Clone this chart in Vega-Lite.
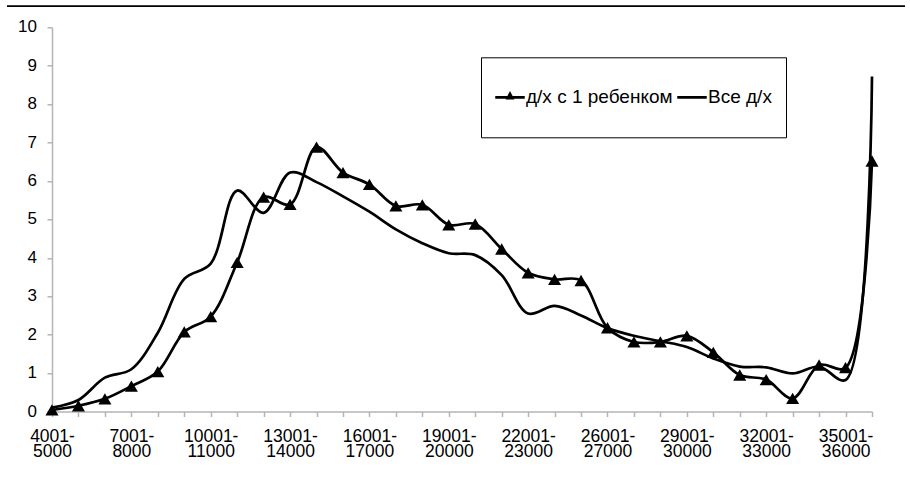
{
  "$schema": "https://vega.github.io/schema/vega-lite/v6.json",
  "autosize": "none",
  "width": 898,
  "height": 384.2,
  "padding": {"left": 7, "top": 27.3, "right": 5, "bottom": 67.5},
  "background": "white",
  "config": {"view": {"stroke": null}, "font": "Liberation Sans", "axisY": {"labelOverlap": false}},
  "datasets": {
    "income": [
      {"cat": "4001-5000", "series": "д/х с 1 ребенком", "value": 0.04},
      {"cat": "5001-6000", "series": "д/х с 1 ребенком", "value": 0.15},
      {"cat": "6001-7000", "series": "д/х с 1 ребенком", "value": 0.33},
      {"cat": "7001-8000", "series": "д/х с 1 ребенком", "value": 0.66},
      {"cat": "8001-9000", "series": "д/х с 1 ребенком", "value": 1.04},
      {"cat": "9001-10000", "series": "д/х с 1 ребенком", "value": 2.07},
      {"cat": "10001-11000", "series": "д/х с 1 ребенком", "value": 2.47},
      {"cat": "11001-12000", "series": "д/х с 1 ребенком", "value": 3.88},
      {"cat": "12001-13000", "series": "д/х с 1 ребенком", "value": 5.58},
      {"cat": "13001-14000", "series": "д/х с 1 ребенком", "value": 5.39},
      {"cat": "14001-15000", "series": "д/х с 1 ребенком", "value": 6.88},
      {"cat": "15001-16000", "series": "д/х с 1 ребенком", "value": 6.22},
      {"cat": "16001-17000", "series": "д/х с 1 ребенком", "value": 5.91},
      {"cat": "17001-18000", "series": "д/х с 1 ребенком", "value": 5.35},
      {"cat": "18001-19000", "series": "д/х с 1 ребенком", "value": 5.38},
      {"cat": "19001-20000", "series": "д/х с 1 ребенком", "value": 4.86},
      {"cat": "20001-21000", "series": "д/х с 1 ребенком", "value": 4.88},
      {"cat": "21001-22000", "series": "д/х с 1 ребенком", "value": 4.23},
      {"cat": "22001-23000", "series": "д/х с 1 ребенком", "value": 3.61},
      {"cat": "23001-24000", "series": "д/х с 1 ребенком", "value": 3.44},
      {"cat": "24001-26000", "series": "д/х с 1 ребенком", "value": 3.41},
      {"cat": "26001-27000", "series": "д/х с 1 ребенком", "value": 2.18},
      {"cat": "27001-28000", "series": "д/х с 1 ребенком", "value": 1.81},
      {"cat": "28001-29000", "series": "д/х с 1 ребенком", "value": 1.81},
      {"cat": "29001-30000", "series": "д/х с 1 ребенком", "value": 1.97},
      {"cat": "30001-31000", "series": "д/х с 1 ребенком", "value": 1.54},
      {"cat": "31001-32000", "series": "д/х с 1 ребенком", "value": 0.95},
      {"cat": "32001-33000", "series": "д/х с 1 ребенком", "value": 0.83},
      {"cat": "33001-34000", "series": "д/х с 1 ребенком", "value": 0.34},
      {"cat": "34001-35000", "series": "д/х с 1 ребенком", "value": 1.21},
      {"cat": "35001-36000", "series": "д/х с 1 ребенком", "value": 1.14},
      {"cat": "более 36000", "series": "д/х с 1 ребенком", "value": 6.52},
      {"cat": "4001-5000", "series": "Все д/х", "value": 0.1},
      {"cat": "5001-6000", "series": "Все д/х", "value": 0.3},
      {"cat": "6001-7000", "series": "Все д/х", "value": 0.88},
      {"cat": "7001-8000", "series": "Все д/х", "value": 1.1},
      {"cat": "8001-9000", "series": "Все д/х", "value": 2.05},
      {"cat": "9001-10000", "series": "Все д/х", "value": 3.45},
      {"cat": "10001-11000", "series": "Все д/х", "value": 3.85},
      {"cat": "11001-12000", "series": "Все д/х", "value": 5.75},
      {"cat": "12001-13000", "series": "Все д/х", "value": 5.17},
      {"cat": "13001-14000", "series": "Все д/х", "value": 6.22},
      {"cat": "14001-15000", "series": "Все д/х", "value": 5.97},
      {"cat": "15001-16000", "series": "Все д/х", "value": 5.6},
      {"cat": "16001-17000", "series": "Все д/х", "value": 5.2},
      {"cat": "17001-18000", "series": "Все д/х", "value": 4.74},
      {"cat": "18001-19000", "series": "Все д/х", "value": 4.38},
      {"cat": "19001-20000", "series": "Все д/х", "value": 4.12},
      {"cat": "20001-21000", "series": "Все д/х", "value": 4.07},
      {"cat": "21001-22000", "series": "Все д/х", "value": 3.55},
      {"cat": "22001-23000", "series": "Все д/х", "value": 2.55},
      {"cat": "23001-24000", "series": "Все д/х", "value": 2.75},
      {"cat": "24001-26000", "series": "Все д/х", "value": 2.5},
      {"cat": "26001-27000", "series": "Все д/х", "value": 2.17},
      {"cat": "27001-28000", "series": "Все д/х", "value": 1.97},
      {"cat": "28001-29000", "series": "Все д/х", "value": 1.83},
      {"cat": "29001-30000", "series": "Все д/х", "value": 1.68},
      {"cat": "30001-31000", "series": "Все д/х", "value": 1.38},
      {"cat": "31001-32000", "series": "Все д/х", "value": 1.17},
      {"cat": "32001-33000", "series": "Все д/х", "value": 1.15},
      {"cat": "33001-34000", "series": "Все д/х", "value": 0.99},
      {"cat": "34001-35000", "series": "Все д/х", "value": 1.17},
      {"cat": "35001-36000", "series": "Все д/х", "value": 0.82},
      {"cat": "более 36000", "series": "Все д/х", "value": 8.72}
    ],
    "yticks": [
      {"tick": 0}, {"tick": 1}, {"tick": 2}, {"tick": 3}, {"tick": 4}, {"tick": 5},
      {"tick": 6}, {"tick": 7}, {"tick": 8}, {"tick": 9}, {"tick": 10}
    ],
    "frame": [{"name": "top"}]
  },
  "layer": [
    {
      "data": {"name": "income"},
      "mark": {"type": "line", "color": "black", "strokeWidth": 2.7, "interpolate": "catmull-rom"},
      "encoding": {
        "x": {
          "field": "cat", "type": "ordinal", "sort": null,
          "scale": {"type": "point", "range": [45, 865], "padding": 0},
          "axis": {
            "title": null,
            "domainColor": "#b4b4b4", "domainWidth": 1.5,
            "tickColor": "#b4b4b4", "tickWidth": 1.5, "tickSize": 5,
            "encode": {"ticks": {"y": {"value": -5}}},
            "labelAngle": 0, "labelOverlap": false,
            "labelFont": "Liberation Sans", "labelFontSize": 17.5, "labelColor": "black",
            "labelBaseline": "top", "labelPadding": 10.5, "labelLineHeight": 15,
            "labelExpr": "indexof(['4001-5000','7001-8000','10001-11000','13001-14000','16001-17000','19001-20000','22001-23000','26001-27000','29001-30000','32001-33000','35001-36000'], datum.value) >= 0 ? [slice(datum.value, 0, indexof(datum.value, '-') + 1), slice(datum.value, indexof(datum.value, '-') + 1)] : ''"
          }
        },
        "y": {
          "field": "value", "type": "quantitative",
          "scale": {"domain": [0, 10], "nice": false},
          "axis": {
            "title": null, "offset": -45,
            "values": [0, 1, 2, 3, 4, 5, 6, 7, 8, 9, 10],
            "grid": false, "labels": false,
            "domainColor": "#b4b4b4", "domainWidth": 1.5,
            "tickColor": "#b4b4b4", "tickWidth": 1.5, "tickSize": 5,
            "encode": {"ticks": {"x": {"value": 5}}}
          }
        },
        "detail": {"field": "series"}
      }
    },
    {
      "data": {"name": "income"},
      "transform": [{"filter": "datum.series === 'д/х с 1 ребенком'"}],
      "mark": {"type": "point", "shape": "triangle-up", "filled": true, "color": "black", "size": 170, "opacity": 1},
      "encoding": {
        "x": {"field": "cat", "type": "ordinal", "sort": null},
        "y": {
          "field": "value", "type": "quantitative",
          "axis": {
            "title": null, "offset": -45,
            "values": [0, 1, 2, 3, 4, 5, 6, 7, 8, 9, 10],
            "grid": false, "labels": false,
            "domainColor": "#b4b4b4", "domainWidth": 1.5,
            "tickColor": "#b4b4b4", "tickWidth": 1.5, "tickSize": 5,
            "encode": {"ticks": {"x": {"value": 5}}}
          }
        }
      }
    },
    {
      "data": {"name": "yticks"},
      "mark": {"type": "text", "align": "right", "baseline": "middle", "dx": -15, "font": "Liberation Sans", "fontSize": 17, "color": "black"},
      "encoding": {
        "x": {"datum": "4001-5000", "type": "ordinal"},
        "y": {
          "field": "tick", "type": "quantitative",
          "axis": {
            "title": null, "offset": -45,
            "values": [0, 1, 2, 3, 4, 5, 6, 7, 8, 9, 10],
            "grid": false, "labels": false,
            "domainColor": "#b4b4b4", "domainWidth": 1.5,
            "tickColor": "#b4b4b4", "tickWidth": 1.5, "tickSize": 5,
            "encode": {"ticks": {"x": {"value": 5}}}
          }
        },
        "text": {"field": "tick", "type": "quantitative"}
      }
    },
    {
      "data": {"name": "income"},
      "transform": [{"filter": "false"}],
      "mark": {"type": "point", "filled": true, "color": "black", "opacity": 1},
      "encoding": {
        "x": {"field": "cat", "type": "ordinal", "sort": null},
        "y": {
          "field": "value", "type": "quantitative",
          "axis": {
            "title": null, "offset": -45,
            "values": [0, 1, 2, 3, 4, 5, 6, 7, 8, 9, 10],
            "grid": false, "labels": false,
            "domainColor": "#b4b4b4", "domainWidth": 1.5,
            "tickColor": "#b4b4b4", "tickWidth": 1.5, "tickSize": 5,
            "encode": {"ticks": {"x": {"value": 5}}}
          }
        },
        "shape": {
          "field": "series", "type": "nominal",
          "scale": {
            "domain": ["д/х с 1 ребенком", "Все д/х"],
            "range": ["M-1,-0.09H1V0.09H-1ZM-0.3,0.15L0,-0.42L0.3,0.15Z", "M-1,-0.09H1V0.09H-1Z"]
          },
          "legend": {
            "orient": "none", "legendX": 474, "legendY": 30,
            "direction": "horizontal", "title": null,
            "strokeColor": "black", "fillColor": "white",
            "encode": {"legend": {"strokeWidth": {"value": 1.5}}},
            "padding": 14, "clipHeight": 52,
            "symbolSize": 870, "symbolStrokeWidth": 0,
            "symbolFillColor": "black", "symbolOpacity": 1,
            "labelFont": "Liberation Sans", "labelFontSize": 19, "labelColor": "black",
            "labelOffset": 1, "columnPadding": 4
          }
        }
      }
    },
    {
      "data": {"name": "frame"},
      "mark": {"type": "rule", "color": "black", "strokeWidth": 1.7, "clip": false},
      "encoding": {
        "y": {
          "datum": 10.55, "type": "quantitative",
          "axis": {
            "title": null, "offset": -45,
            "values": [0, 1, 2, 3, 4, 5, 6, 7, 8, 9, 10],
            "grid": false, "labels": false,
            "domainColor": "#b4b4b4", "domainWidth": 1.5,
            "tickColor": "#b4b4b4", "tickWidth": 1.5, "tickSize": 5,
            "encode": {"ticks": {"x": {"value": 5}}}
          }
        }
      }
    }
  ]
}
